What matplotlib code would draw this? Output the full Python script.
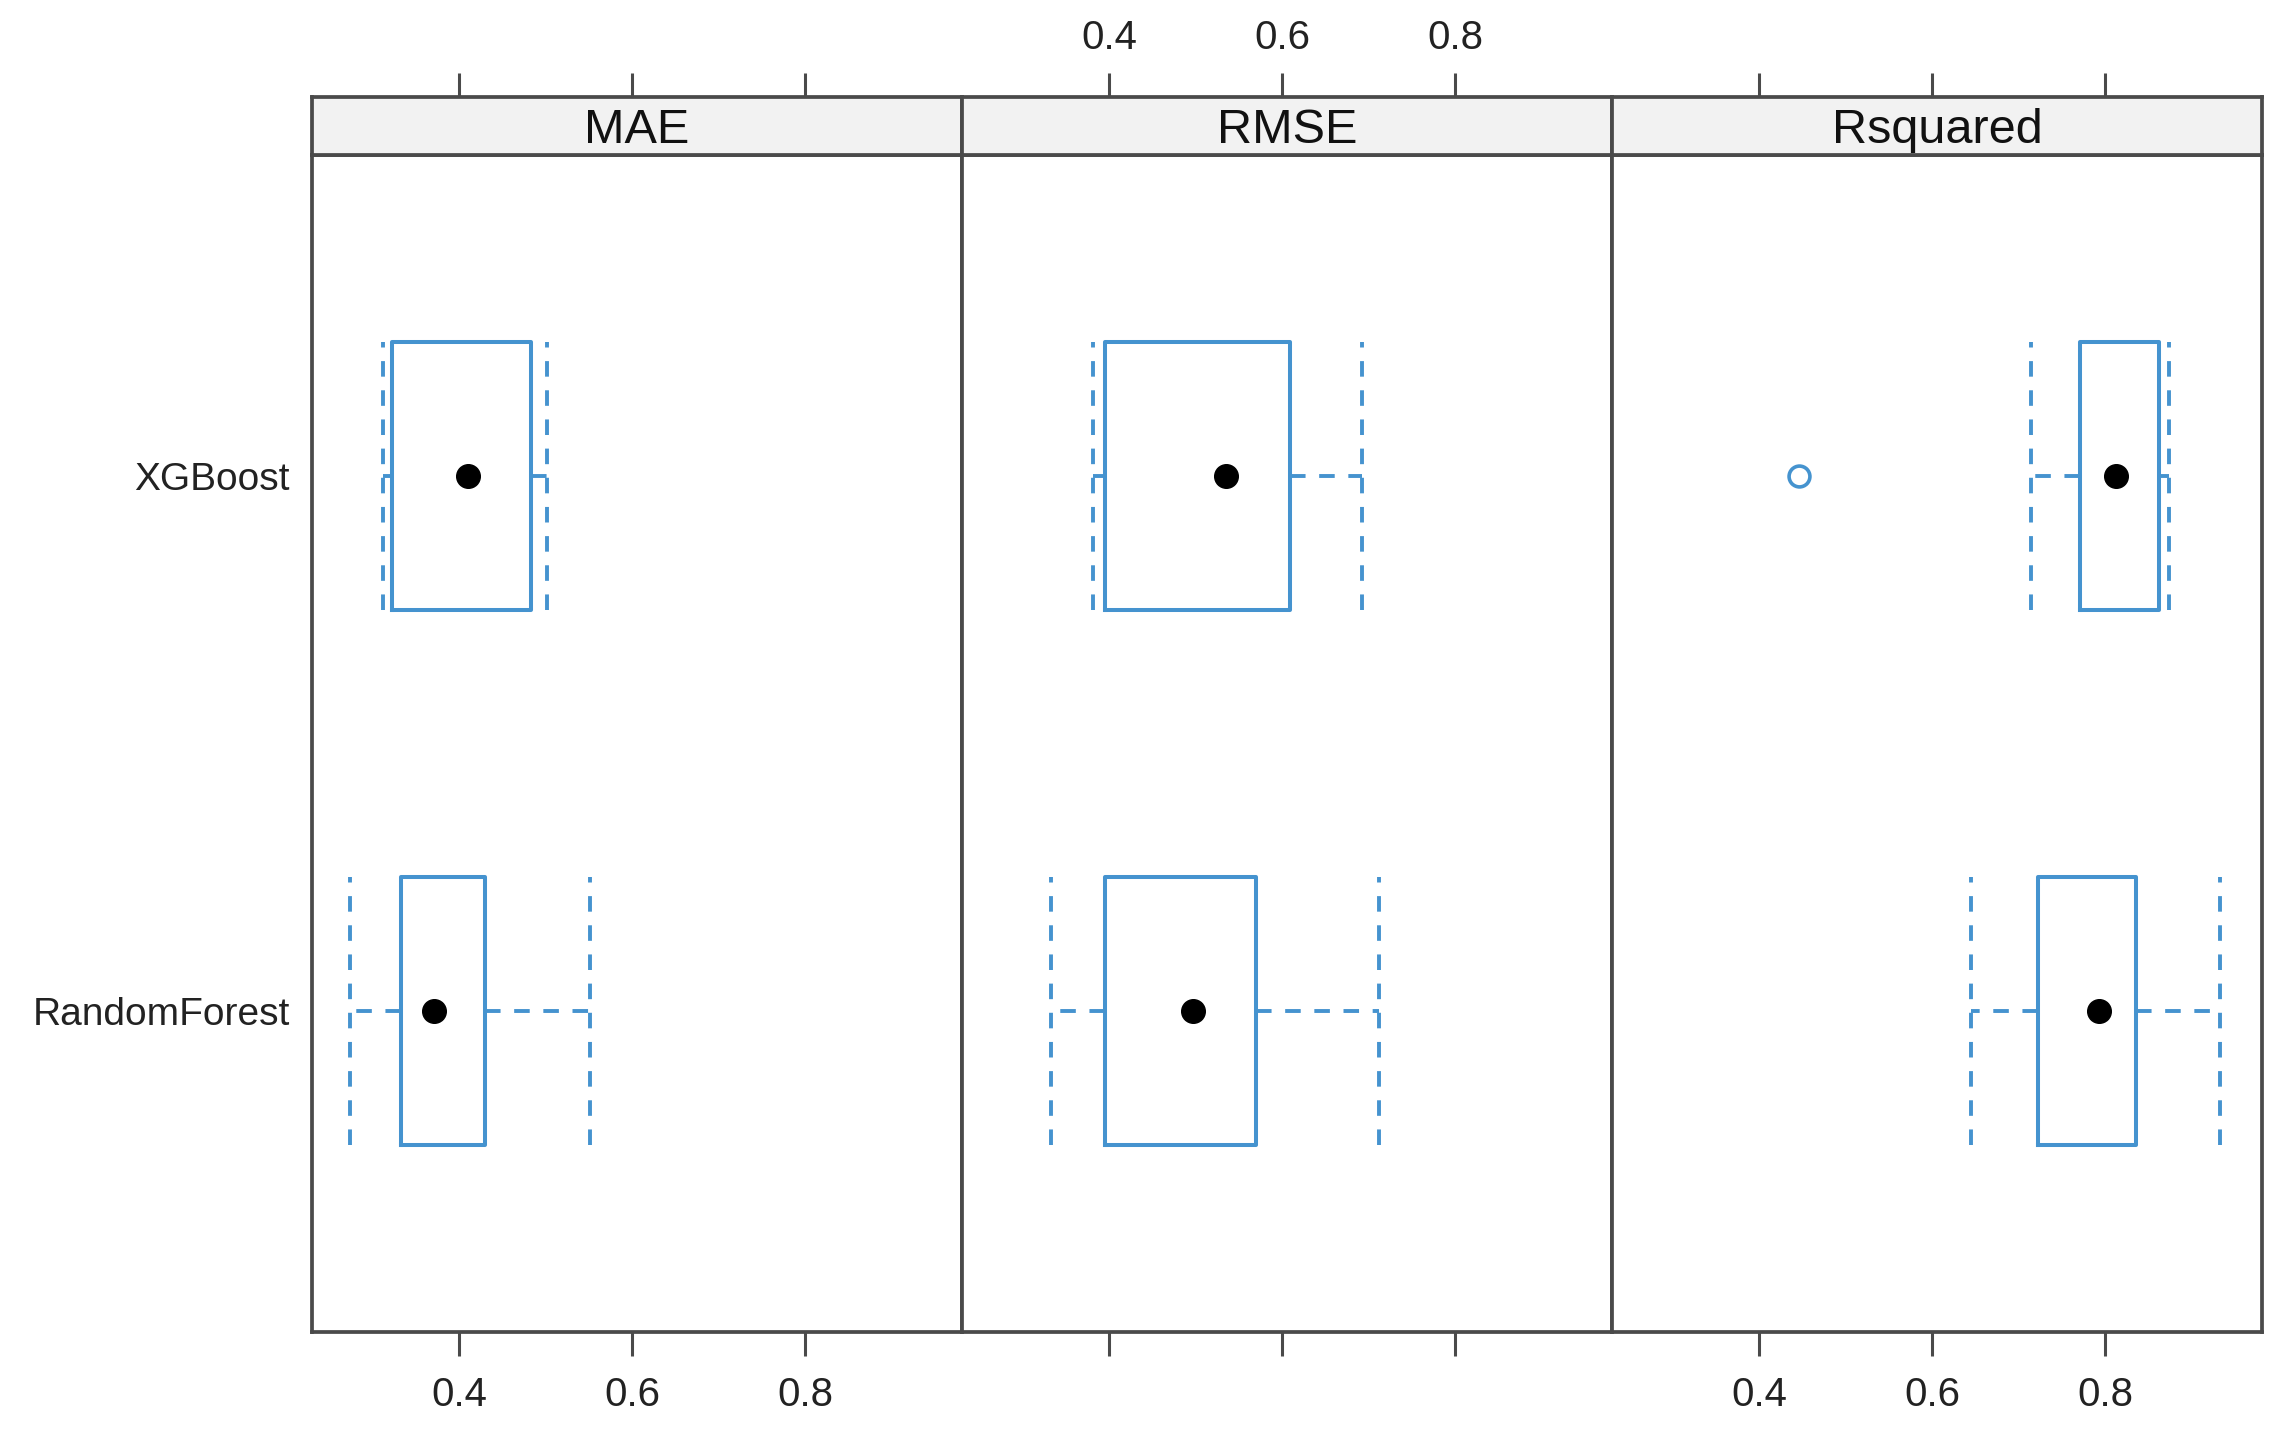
import numpy as np
import matplotlib.pyplot as plt

plt.rcParams['font.family'] = ['Liberation Sans', 'DejaVu Sans']

metrics = ['MAE', 'RMSE', 'Rsquared']
models = ['RandomForest', 'XGBoost']

# five-number summaries per metric, order: RandomForest, XGBoost
whislo = {'MAE': [0.273, 0.312], 'RMSE': [0.332, 0.381], 'Rsquared': [0.645, 0.714]}
q1 = {'MAE': [0.332, 0.322], 'RMSE': [0.395, 0.395], 'Rsquared': [0.722, 0.771]}
med = {'MAE': [0.371, 0.410], 'RMSE': [0.496, 0.535], 'Rsquared': [0.792, 0.812]}
q3 = {'MAE': [0.429, 0.483], 'RMSE': [0.569, 0.609], 'Rsquared': [0.835, 0.862]}
whishi = {'MAE': [0.551, 0.501], 'RMSE': [0.712, 0.692], 'Rsquared': [0.933, 0.874]}
fliers = {'MAE': [[], []], 'RMSE': [[], []], 'Rsquared': [[], [0.446]]}

xticks = [0.4, 0.6, 0.8]
xlim = (0.2295, 0.981)

blue = '#4593cf'
frame = '#4a4a4a'

W, H = 2287, 1437
fig = plt.figure(figsize=(W / 100, H / 100), dpi=100)

left, right = 312 / W, 2262 / W
bottom = 1 - 1332 / H
top = 1 - 155 / H
strip_top = 1 - 97 / H
pw = (right - left) / 3

for i, m in enumerate(metrics):
    ax = fig.add_axes([left + i * pw, bottom, pw, top - bottom])
    st = fig.add_axes([left + i * pw, top, pw, strip_top - top], sharex=ax)

    stats = []
    for j in range(len(models)):
        stats.append(dict(whislo=whislo[m][j], q1=q1[m][j], med=med[m][j],
                          q3=q3[m][j], whishi=whishi[m][j], fliers=fliers[m][j]))
    pos = np.arange(1, len(models) + 1)
    ax.bxp(stats, positions=pos, widths=0.5, capwidths=0.5,
           orientation='horizontal', showfliers=True,
           boxprops=dict(color=blue, lw=2.9),
           whiskerprops=dict(color=blue, lw=2.8, linestyle=(0, (4, 3.5))),
           capprops=dict(color=blue, lw=2.8, linestyle=(0, (4, 3.5))),
           medianprops=dict(lw=0),
           flierprops=dict(marker='o', markersize=15, markerfacecolor='none',
                           markeredgecolor=blue, markeredgewidth=2.6))
    ax.plot(med[m], pos, 'o', color='black', markersize=17, zorder=5)

    ax.set_xlim(*xlim)
    ax.set_ylim(0.4, 2.6)
    ax.set_xticks(xticks)
    ax.set_xticklabels([f'{t:.1f}' for t in xticks])
    ax.tick_params(axis='x', direction='out', length=17, width=2.2, color=frame,
                   labelsize=29, pad=15, labelcolor='#222222',
                   labelbottom=(i != 1))
    ax.set_yticks(pos)
    ax.set_yticklabels(models)
    ax.tick_params(axis='y', length=0, labelsize=28, pad=16, labelcolor='#222222',
                   labelleft=(i == 0))
    for s in ax.spines.values():
        s.set_color(frame)
        s.set_linewidth(2.7)

    st.set_facecolor('#f2f2f2')
    st.set_yticks([])
    st.xaxis.tick_top()
    st.tick_params(axis='x', direction='out', length=17, width=2.2, color=frame,
                   labelsize=29, pad=12, labelcolor='#222222',
                   labeltop=(i == 1), labelbottom=False, bottom=False)
    st.text(0.5, 0.42, m, transform=st.transAxes, ha='center', va='center',
            fontsize=35, color='#111111')
    for s in st.spines.values():
        s.set_color(frame)
        s.set_linewidth(2.7)

fig.savefig('out.png', dpi=100)
